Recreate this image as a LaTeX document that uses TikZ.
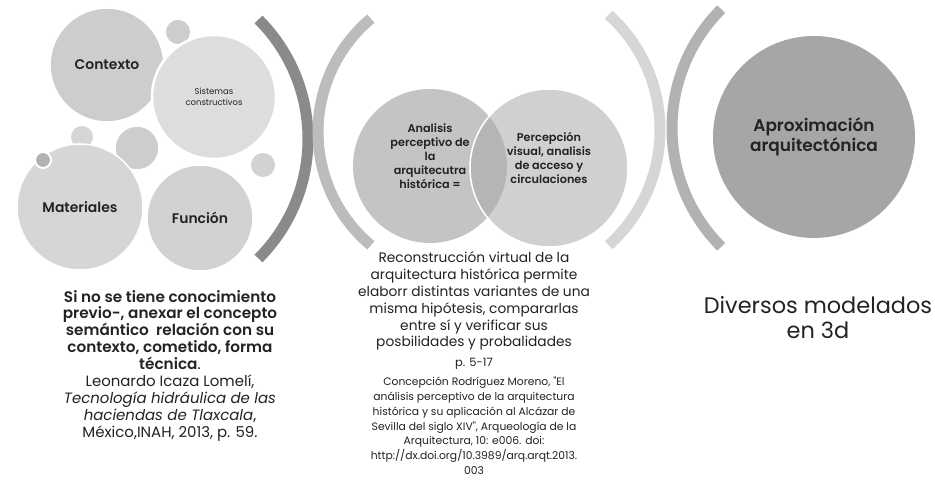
\documentclass[tikz,border=0pt]{standalone}
\usepackage{fontspec}
\setmainfont{Poppins}[Ligatures=TeXOff,BoldFont={Poppins SemiBold},BoldItalicFont={Poppins SemiBold Italic}]
\usetikzlibrary{positioning}
\definecolor{InkGray}{RGB}{35,35,35}
\definecolor{ArcDark}{RGB}{138,138,138}
\definecolor{ArcMid}{RGB}{188,188,188}
\definecolor{ArcLight}{RGB}{214,214,214}
\definecolor{ArcRight}{RGB}{178,178,178}
\definecolor{BlobA}{RGB}{205,205,205}
\definecolor{BlobB}{RGB}{221,221,221}
\definecolor{BlobC}{RGB}{214,214,214}
\definecolor{BlobD}{RGB}{210,210,210}
\definecolor{VennL}{RGB}{196,196,196}
\definecolor{VennR}{RGB}{208,208,208}
\definecolor{VennMix}{RGB}{181,181,181}
\definecolor{BigDisc}{RGB}{166,166,166}
\tikzset{
  blob/.style={circle,draw=white,line width=1.5bp,inner sep=0pt,align=center,text=InkGray},
  bloblabel/.style={font=\fontsize{14}{16}\selectfont\bfseries},
  venntext/.style={align=center,text=InkGray,inner sep=0pt,font=\fontsize{11.3}{14}\selectfont\bfseries},
  bracket/.style={line width=11bp},
  bodytext/.style={align=center,text=InkGray,inner sep=0pt},
}

\begin{document}
\begin{tikzpicture}[x=1bp,y=1bp]
  \useasboundingbox[fill=white] (0,0) rectangle (935,484);
  % left cluster
  \node[blob,bloblabel,fill=BlobA,minimum size=114bp] (contexto) at (107,419) {Contexto};
  \fill[BlobA] (178,452) circle[radius=12];
  \node[blob,fill=BlobB,minimum size=124bp,line width=2.5bp,font=\fontsize{8.5}{11}\selectfont] (sistemas) at (214,387) {Sistemas\\constructivos};
  \fill[BlobC] (82,347) circle[radius=11];
  \filldraw[BlobA,draw=white,line width=1.5bp] (137,336) circle[radius=22];
  \node[blob,bloblabel,fill=BlobC,minimum size=126bp] (materiales) at (80,277) {Materiales};
  \filldraw[fill=black!30,draw=white,line width=2bp] (43,324) circle[radius=8];
  \node[blob,bloblabel,fill=BlobD,minimum size=106bp] (funcion) at (200,266) {Función};
  \fill[BlobD] (263,319) circle[radius=12];
  \draw[bracket,ArcDark] (139,345) ++(45:169) arc[start angle=45,end angle=-45,radius=169];
  \node[bodytext,font=\fontsize{15.3}{17}\selectfont\bfseries] (txtleft) at (170,154)
    {Si no se tiene conocimiento\\previo-, anexar el concepto\\semántico\ \ relación con su\\contexto, cometido, forma\\técnica{\mdseries.}};
  \node[bodytext,font=\fontsize{15}{17}\selectfont,below=5bp of txtleft] (refleft)
    {Leonardo Icaza Lomelí,\\\textit{Tecnología hidráulica de las}\\\textit{haciendas de Tlaxcala},\\México,INAH, 2013, p. 59.};
  % middle block
  \draw[bracket,ArcMid] (466,352) ++(130:148) arc[start angle=130,end angle=230,radius=148];
  \draw[bracket,ArcLight] (505,354) ++(48:155) arc[start angle=48,end angle=-48,radius=155];
  \node[blob,fill=VennL,draw=none,minimum size=154bp] (analisis) at (430,318) {};
  \node[blob,fill=VennR,minimum size=158bp,
    path picture={\fill[VennMix] (analisis.center) circle[radius=77];}] (percepcion) at (549,316) {};
  \node[venntext] (analisistxt) at ([yshift=10bp]analisis.center)
    {Analisis\\perceptivo de\\la\\arquitecutra\\histórica =};
  \node[venntext] (percepciontxt) at ([yshift=10bp]percepcion.center)
    {Percepción\\visual, analisis\\de acceso y\\circulaciones};
  \node[bodytext,font=\fontsize{13.8}{17}\selectfont] (txtmid) at (474,183)
    {Reconstrucción virtual de la\\arquitectura histórica permite\\elaborr distintas variantes de una\\misma hipótesis, compararlas\\entre sí y verificar sus\\posbilidades y probalidades};
  \node[bodytext,font=\fontsize{11.5}{13}\selectfont,below=7bp of txtmid] (pmid) {p. 5-17};
  \node[bodytext,font=\fontsize{10.8}{15}\selectfont,below=7bp of pmid] (refmid)
    {Concepción Rodríguez Moreno, "El\\análisis perceptivo de la arquitectura\\histórica y su aplicación al Alcázar de\\Sevilla del siglo XIV", Arqueología de la\\Arquitectura, 10: e006. doi:\\http://dx.doi.org/10.3989/arq.arqt.2013.\\003};
  % right block
  \draw[bracket,ArcRight] (840,356) ++(135:168) arc[start angle=135,end angle=225,radius=168];
  \node[blob,fill=BigDisc,draw=none,minimum size=202bp,font=\fontsize{17}{20}\selectfont\bfseries] (aprox) at (814,347)
    {Aproximación\\arquitectónica};
  \node[bodytext,font=\fontsize{22.5}{25}\selectfont] (txtright) at (818,166.5)
    {Diversos modelados\\en 3d};
\end{tikzpicture}
\end{document}
